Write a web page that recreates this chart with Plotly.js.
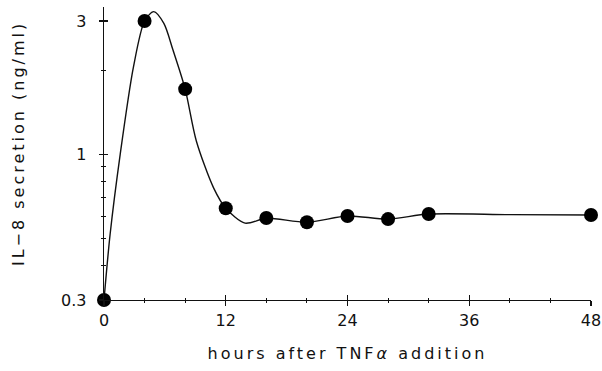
<!DOCTYPE html>
<html>
<head>
<meta charset="utf-8">
<script src="https://cdn.plot.ly/plotly-3.0.1.min.js"></script>
<style>
html,body{margin:0;padding:0;background:#fff;}
#chart{width:602px;height:371px;}
#chart .xtitle, #chart .annotation-text {letter-spacing: 3px;}
</style>
</head>
<body>
<div id="chart"></div>
<script>
// Measured data points
var hours = [0, 4, 8, 12, 16, 20, 24, 28, 32, 48];
var il8 = [0.30, 3.00, 1.71, 0.64, 0.59, 0.57, 0.60, 0.585, 0.61, 0.605];

// Fitted curve
var curveHours = [0, 0.6, 1.6, 2.9, 4, 4.9, 5.9, 6.8, 8, 9.1, 10.8, 12, 13.9, 16, 20, 24, 28, 32, 40, 48];
var curveIL8 = [0.30, 0.515, 1.0, 2.05, 3.0, 3.24, 2.94, 2.36, 1.71, 1.115, 0.757, 0.64, 0.566, 0.589, 0.57, 0.60, 0.585, 0.61, 0.607, 0.605];

// Tick labels
var xTicks = [0, 12, 24, 36, 48];
var yTicks = [0.3, 1, 3];
var yTickText = ['0.3', '1', '3'];
var yMinor = [0.4, 0.5, 0.6, 0.7, 0.8, 0.9, 2];
var yTitle = 'IL−8 secretion (ng/ml)';
var xTitle = 'hours after TNF<i>α</i> addition';

var FONT = 'DejaVu Sans, Liberation Sans, sans-serif';
var INK = '#111';

var traces = [
  {x: curveHours, y: curveIL8, mode: 'lines', type: 'scatter',
   line: {color: INK, width: 1.4, shape: 'spline', smoothing: 0.8},
   hoverinfo: 'skip', cliponaxis: false},
  {x: hours, y: il8, mode: 'markers', type: 'scatter',
   marker: {color: '#000', size: 14}, cliponaxis: false},
  {x: hours, y: il8, xaxis: 'x2', yaxis: 'y2', mode: 'markers', type: 'scatter',
   marker: {opacity: 0}, hoverinfo: 'skip', showlegend: false}
];

var yr = [Math.log10(0.3), 0.5273];
var common = {showgrid: false, zeroline: false, linecolor: INK, linewidth: 1.3, tickcolor: INK};

var layout = {
  width: 602, height: 371,
  margin: {l: 104, r: 11, t: 7, b: 71},
  paper_bgcolor: '#fff', plot_bgcolor: '#fff',
  showlegend: false,
  font: {family: FONT, color: INK},
  xaxis: Object.assign({}, common, {
    range: [0, 48], tickmode: 'array', tickvals: xTicks,
    ticks: 'outside', ticklen: 5, tickwidth: 1.2, showline: true,
    tickfont: {family: FONT, size: 16, color: INK},
    ticklabelstandoff: 0,
    minor: {dtick: 4, tick0: 0, ticks: 'outside', ticklen: 2, tickwidth: 1, tickcolor: INK},
    title: {text: xTitle, font: {family: FONT, size: 16, color: INK}, standoff: 19}
  }),
  yaxis: Object.assign({}, common, {
    type: 'log', range: yr, tickmode: 'array', tickvals: yTicks, ticktext: yTickText,
    ticks: 'outside', ticklen: 4, tickwidth: 1.2, showline: true,
    tickfont: {family: FONT, size: 16, color: INK},
    ticklabelstandoff: 9,
    minor: {tickmode: 'array', tickvals: yMinor, ticks: 'outside', ticklen: 2, tickwidth: 1, tickcolor: INK}
  }),
  xaxis2: {overlaying: 'x', anchor: 'y2', side: 'bottom', range: [0, 48], showgrid: false, zeroline: false,
    showline: false, tickmode: 'array', tickvals: xTicks, ticks: 'inside', ticklen: 5, tickwidth: 1.2, tickcolor: INK,
    showticklabels: false,
    minor: {dtick: 4, tick0: 0, ticks: 'inside', ticklen: 2, tickwidth: 1, tickcolor: INK}},
  yaxis2: {overlaying: 'y', anchor: 'x2', side: 'left', type: 'log', range: yr, showgrid: false, zeroline: false,
    showline: false, tickmode: 'array', tickvals: yTicks, ticks: 'inside', ticklen: 4, tickwidth: 1.2, tickcolor: INK,
    showticklabels: false,
    minor: {tickmode: 'array', tickvals: yMinor, ticks: 'inside', ticklen: 2, tickwidth: 1, tickcolor: INK}},
  annotations: [{
    text: yTitle, textangle: -90, showarrow: false,
    xref: 'paper', yref: 'paper', x: -0.177, y: 0.535, xanchor: 'center', yanchor: 'middle',
    font: {family: FONT, size: 16, color: INK}
  }]
};

Plotly.newPlot('chart', traces, layout, {displayModeBar: false, staticPlot: true});
</script>
</body>
</html>
